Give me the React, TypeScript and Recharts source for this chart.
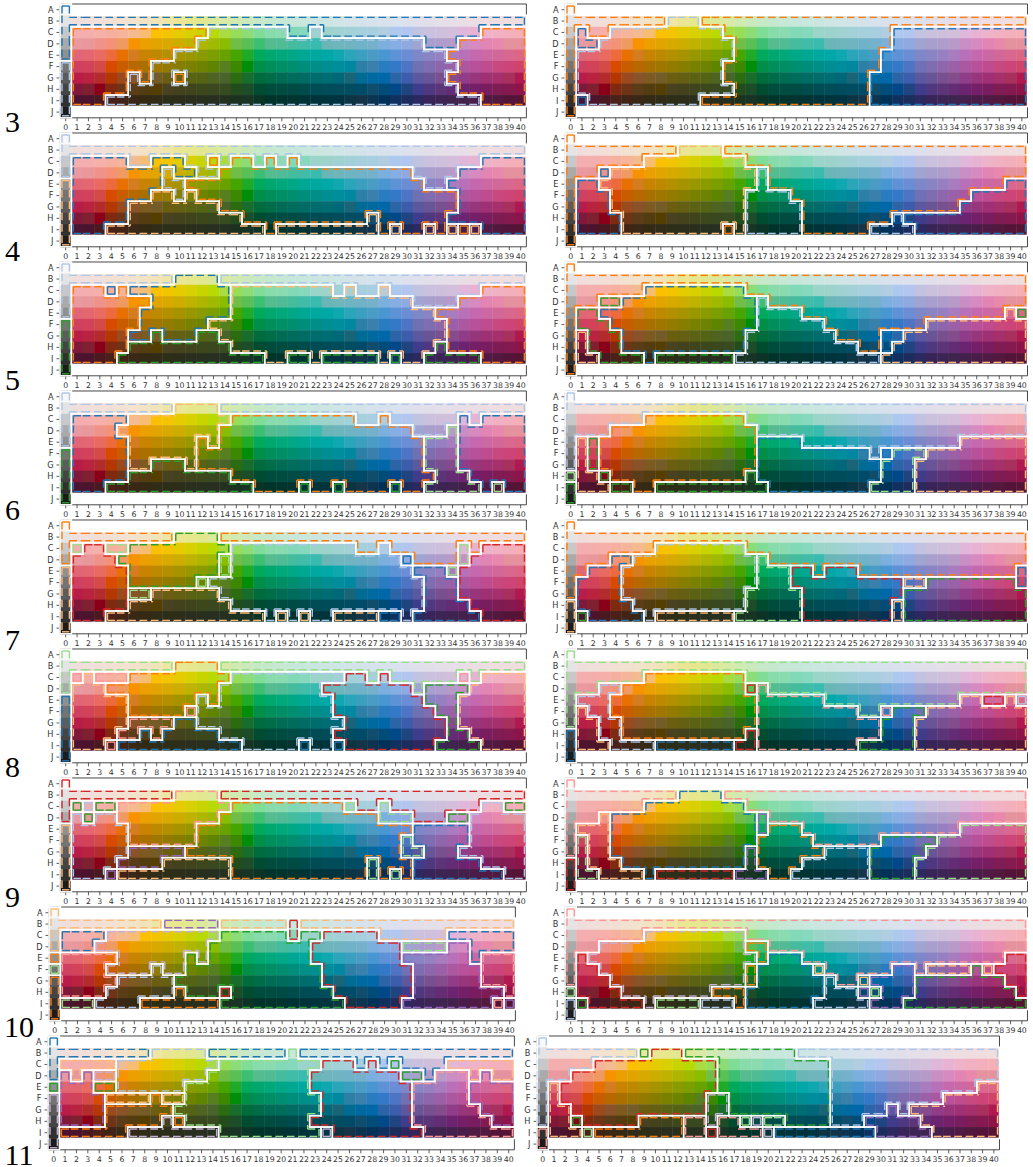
import { ScatterChart, Scatter, XAxis, YAxis, ReferenceArea } from "recharts";

const columnTicks = Array.from({ length: 41 }, (_, i) => i);
const rowTicks = [0, 1, 2, 3, 4, 5, 6, 7, 8, 9];
const rowNames = ["A", "B", "C", "D", "E", "F", "G", "H", "I", "J"];

const greyChips = ["#f8f8f8", "#e4e4e4", "#c8c8c8", "#aaaaaa", "#909090", "#747474", "#5c5c5c", "#444444", "#303030", "#1c1c1c"];
const chipsB = ["#f0dedd", "#f1dfdb", "#f2dfd8", "#f3e0d5", "#f3e1d1", "#f3e2cc", "#f2e3c4", "#f1e4b8", "#efe5a5", "#ebe693", "#e7e78e", "#e2e890", "#dde99a", "#d8eaa6", "#d1eab2", "#cce9bd", "#c8e9c8", "#c6e8cf", "#c6e8d4", "#c6e7d9", "#c8e7dd", "#cbe6e0", "#cee6e2", "#d0e5e5", "#d2e4e8", "#d4e3ea", "#d6e3ec", "#d8e2ed", "#dae2ee", "#dde1ee", "#dfe0ec", "#e2dfea", "#e4dfe9", "#e6dee8", "#e9dde6", "#ecdde3", "#eedde1", "#efdde0", "#f0dddf", "#f0dede"];
const chipsC = ["#f5aeb0", "#f5aeae", "#f6afa9", "#f6b09f", "#f6b59b", "#f3bb8f", "#f7bd72", "#fbc000", "#f3c400", "#e5cc00", "#d8d000", "#c8d400", "#b9da00", "#a8dc40", "#96dd58", "#8cdd78", "#7fdd98", "#88dcab", "#8adbb0", "#82d9b8", "#86d9bc", "#9bd4c8", "#9ed3cc", "#a0d2d2", "#a2d2d8", "#a5d0dc", "#a8cfdf", "#b0cde2", "#aec9ee", "#b3c6f0", "#c2c3e0", "#cac1de", "#cec0dc", "#d3bfdc", "#e0b6da", "#e8b3d3", "#eeb2c9", "#f1b1c2", "#f3b0bc", "#f5afb5"];
const chipsD = ["#e89aa0", "#e8989a", "#ef928a", "#f39276", "#ef9a60", "#f79300", "#eb9f00", "#e2a400", "#d8aa00", "#cdae00", "#bfb200", "#afb600", "#9fba00", "#89bd00", "#70bd47", "#5abf55", "#3cbf72", "#55bc8f", "#50bb95", "#46bc9e", "#40bca8", "#3abbb0", "#6ab6b6", "#6eb5bc", "#6fb4c0", "#70b3c8", "#76b1cc", "#7bafde", "#86aee2", "#90a9e0", "#a0a4d0", "#a99fcf", "#ae9dcc", "#b89ac8", "#c98fc4", "#d68ac0", "#e285b4", "#e888ac", "#e5929f", "#e5929e"];
const chipsE = ["#e06676", "#e46670", "#e96a60", "#ec6a3c", "#e87000", "#d47c20", "#c88400", "#bd8900", "#b29000", "#a69300", "#999700", "#8a9b00", "#7b9e00", "#68a200", "#47a500", "#1faa28", "#00a95c", "#00a870", "#00a87a", "#00a888", "#00a894", "#00a8a0", "#00a8a8", "#10a8b0", "#2aa5ba", "#3ba0c0", "#4a9cc4", "#4896d2", "#5d92d6", "#6a8dd6", "#7e88c8", "#8a84c4", "#9680c2", "#a87cbe", "#b870b8", "#c668ae", "#cc68a4", "#d2689a", "#d86890", "#dc6684"];
const chipsF = ["#d04060", "#d24258", "#d44a48", "#d84a00", "#c85c00", "#b86800", "#a97000", "#9e7600", "#937a00", "#877d00", "#7a8000", "#6e8300", "#5f8500", "#568020", "#3c8800", "#008e0a", "#008e48", "#008e5a", "#008e64", "#008e70", "#008e7c", "#008e88", "#008e92", "#008e9c", "#0088a0", "#2c80a8", "#3a80ac", "#2a7cc0", "#3478c8", "#4e74c4", "#7070b4", "#806cb0", "#8e66ac", "#9c60a8", "#ac58a0", "#b8509a", "#c04c90", "#c84880", "#cc4478", "#d0446c"];
const chipsG = ["#b81c48", "#ba2340", "#b42b2e", "#b43600", "#9a4a1c", "#8a5228", "#7d5a20", "#745c28", "#6c5e10", "#655f14", "#5c6214", "#546414", "#4e6420", "#48642a", "#2c6c10", "#186c2c", "#006c3c", "#006c48", "#006c54", "#006c5c", "#006c64", "#006c6c", "#006c74", "#006878", "#1a6478", "#006c94", "#006aa0", "#0068a8", "#2c64a8", "#3c5cac", "#5c58a0", "#6a5498", "#785090", "#844c8c", "#903c88", "#98367c", "#a03074", "#a6306c", "#a8305c", "#b01850"];
const chipsH = ["#80183a", "#7e2030", "#8a0018", "#7f2a10", "#6e3418", "#5a3c18", "#523c10", "#543e00", "#484220", "#44421c", "#40441c", "#3c481c", "#3a4820", "#384a20", "#224c1c", "#1c4c28", "#004c30", "#004c3c", "#004c40", "#004c44", "#004c4c", "#004c54", "#004c58", "#004c5c", "#004c60", "#004c68", "#104c6c", "#004c78", "#004888", "#204480", "#3f3c8c", "#503880", "#5c3478", "#642c74", "#6c2470", "#741f68", "#7a1c60", "#801c54", "#841a50", "#8c1448"];
const chipsI = ["#4c1430", "#4c142c", "#4a1820", "#4a2018", "#422416", "#3a2816", "#342a14", "#302c18", "#2c2e18", "#2c2e1a", "#2a2e1c", "#282f1e", "#262f20", "#243020", "#1c3220", "#183424", "#0c3426", "#00342a", "#00342c", "#043430", "#003434", "#00343a", "#00343c", "#003440", "#0c3442", "#143448", "#0c3450", "#003258", "#103060", "#1c2c5c", "#2c2860", "#382458", "#3c2454", "#402450", "#44204c", "#4a1c4a", "#501a44", "#52183e", "#54143a", "#561434"];
const chipRows = [chipsB, chipsC, chipsD, chipsE, chipsF, chipsG, chipsH, chipsI];

const clusterColors: Record<string, string> = {
  b: "#1f77b4", B: "#aec7e8", o: "#ff7f0e", O: "#ffbb78", g: "#2ca02c",
  G: "#98df8a", r: "#d62728", R: "#ff9896", p: "#9467bd", P: "#c5b0d5",
};

// clusters: grey column A-J, then rows B-I as "<cluster><last column>" runs
const grey3L = "bbbbbBBBBB";
const runs3L = ["b40", "o12 B19 b21 B22 b36 o40", "o11 B31 b34 o40", "o9 B33 o40", "o7 B34 o40", "o5 B6 o7 B9 o10 B33 o40", "o5 B34 o40", "o3 B36 o40"];
const grey3R = "oooooooooo";
const runs3R = ["o8 B11 o40", "b1 o3 B13 o28 b40", "b2 B14 o28 b40", "B14 o27 b40", "B13 o27 b40", "B13 o26 b40", "B14 o26 b40", "b1 B11 o26 b40"];
const grey4L = "BBBBOOOOOO";
const runs4L = ["B40", "b5 B7 b10 B12 o13 B14 o16 B17 o18 B19 o20 B36 b40", "b8 B9 b11 B13 o30 B34 b40", "b8 B10 o31 B33 b40", "b7 O9 B10 O11 o34 b40", "b5 O13 o34 b40", "b5 O15 o26 O27 o33 b40", "b3 O17 o18 O27 o28 O29 o31 O32 o33 O34 o35 O36 b40"];
const grey4R = "oooooooooo";
const runs4R = ["o9 O13 o40", "o6 O15 o40", "o2 b3 O16 B17 o40", "b2 O16 B17 o38 b40", "b3 O15 B19 o35 b40", "b3 O15 B20 o34 b40", "b4 O15 B20 o28 B29 b40", "b4 O13 o14 O15 B20 o26 B30 b40"];
const grey5L = "BBBBBggggg";
const runs5L = ["B9 b13 B40", "o3 b4 o5 b14 O23 B24 O25 B27 O28 B36 o40", "o7 b14 O30 B34 o40", "o6 b14 O32 o40", "o6 b12 O33 o40", "o5 b7 g8 b11 g13 O33 o40", "o5 g14 O32 g33 o40", "o4 g17 O19 g21 O22 g27 O28 g29 O31 g36 o40"];
const grey5R = "oooooooooo";
const runs5R = ["o40", "o6 b15 o40", "o2 g4 b16 B17 o40", "g2 b16 B20 o38 O39 g40", "g3 b16 B22 o31 O40", "O1 g4 b15 B23 o27 b29 O40", "O1 g4 b15 B25 o27 b28 O40", "O2 g6 b7 g14 B27 O40"];
const grey6L = "BBBBBggggg";
const runs6L = ["B9 O13 B40", "b5 O14 o25 B27 o28 B34 b35 B36 b40", "b4 O13 o30 B33 G34 b40", "b5 O11 o12 O13 o31 G34 b40", "b5 O11 o31 G34 b40", "b5 O7 g10 O11 o31 G34 b40", "b5 g14 o32 G35 b40", "b3 g16 o20 g21 o23 g24 o28 g29 o31 G36 b37 G38 b40"];
const grey6R = "BBBBBBBGgg";
const runs6R = ["B40", "B6 o15 B40", "B3 o16 B40", "O1 g2 o16 b20 B34 O40", "O1 g2 o16 b26 B27 b28 G31 O40", "O1 g2 o16 b27 G30 O40", "O2 g3 o15 g16 b27 G30 O40", "O3 g5 o7 g17 b26 G30 O40"];
const grey7L = "ooooOOOOOO";
const runs7L = ["o9 g13 o40", "G1 r3 G5 g14 B25 o27 B28 o34 G35 o36 r40", "r4 g13 G14 B29 b30 o34 G35 r40", "r5 g13 G14 B30 b33 G34 r40", "r5 g11 G12 B31 b34 r40", "r5 G7 O13 B31 b34 r40", "r5 O14 B31 b35 r40", "r3 O17 B18 O19 B20 O21 B23 O27 b29 B30 b36 r40"];
const grey7R = "oooooooOOO";
const runs7R = ["o40", "o7 B15 o40", "o3 b5 B16 G17 o40", "o1 b4 B16 G19 r21 o22 r25 o39 b40", "b4 B16 G19 r29 O31 g39 b40", "b4 B15 G20 r29 g40", "b5 B15 G20 r28 O29 g40", "g1 b6 B7 O14 G20 r28 O29 g40"];
const grey8L = "GGGGbbbbbb";
const runs8L = ["G9 o13 G40", "R1 O2 R5 o14 B24 r26 G27 r28 G34 R35 G36 O40", "O3 o13 B22 r30 G31 g35 O40", "O5 o11 B12 o13 B23 r31 g34 O40", "O5 o10 R11 B23 r32 g34 O40", "O5 R9 b11 B24 r33 g34 O40", "O4 R6 b7 R8 b13 B23 r33 g35 O40", "O3 R4 b15 B20 b21 B23 b24 r32 g36 O40"];
const grey8R = "GGGGGGGbbb";
const runs8R = ["G40", "G6 o15 G40", "G2 B4 o15 r16 R17 G40", "B3 o16 R22 G34 O36 r38 O39 B40", "O1 B3 o16 R25 G27 R28 g31 O40", "O2 B4 o16 R27 g30 O40", "O2 B4 o15 r16 R27 g30 O40", "O3 B7 b14 r16 R25 g30 O40"];
const grey9L = "rrrrOOOOOO";
const runs9L = ["r9 R13 r40", "g1 B2 g4 R14 o24 G25 r27 G28 r36 B38 g40", "B1 g2 B4 R13 o27 G30 r33 g35 B40", "B5 R11 o30 b35 B40", "B5 R11 o29 G30 b35 B40", "B5 p10 o29 G31 b34 B40", "B4 p8 O14 o26 G27 o30 b36 B40", "B3 p4 O14 o26 G27 o28 G29 o30 b38 B40"];
const grey9R = "RRRRRRRrrr";
const runs9R = ["R9 b13 R40", "R6 b15 R40", "R2 O3 b16 p17 R40", "O3 b16 p17 o20 R34 G40", "G1 O3 b16 o21 R27 g32 G40", "G1 O3 b15 p16 o22 B26 g31 G40", "G1 O4 b15 p16 o20 B26 g30 G40", "G2 O6 b7 r14 p17 o19 B26 g30 G40"];
const grey10L = "OOOOoGoooo";
const runs10L = ["O9 p14 O20 r21 O40", "b4 P14 g20 r21 g23 r28 O34 b40", "b3 P13 g22 r30 G34 p36 b40", "R5 P11 g12 P13 g22 r30 p36 b37 R40", "R4 P8 B9 P11 g23 r31 p37 R40", "R5 B10 g23 r31 p37 R40", "R4 B10 o11 g14 r15 g24 r31 p39 R40", "G3 B7 o14 g25 r30 p38 R39 p40"];
const grey10R = "RRRRRRRGBB";
const runs10R = ["R40", "R6 P15 R40", "R2 P15 o17 R40", "r1 P16 o17 b20 R38 r40", "r2 P15 o16 b21 O22 R28 p30 R31 O35 g36 O37 r40", "r3 P15 o16 b22 B23 R25 O26 p30 g38 r40", "r4 P12 o15 b22 B25 p26 G27 p30 g39 r40", "g1 r6 P7 G11 B14 o15 b21 B26 p29 g40"];
const grey11L = "bbbbgPPPPP";
const runs11L = ["b8 B13 b20 G21 b40", "O5 B14 G23 r26 b27 r28 b29 g30 b34 O40", "p1 O2 p3 P5 B13 G22 r30 g32 b33 R36 O37 p38 O40", "p3 g5 B11 G22 r31 R36 p40", "p4 O8 o9 O11 G23 r31 R36 p40", "p4 o10 G23 r31 R37 p40", "p4 o9 P10 o11 G22 r31 R38 p40", "o6 P14 G23 P24 r32 R40"];
const grey11R = "BBBBBBBBRR";
const runs11R = ["B8 g9 r12 g22 B40", "B4 r15 g25 B40", "B2 r15 g25 B40", "O1 r15 g25 B38 O40", "O1 r14 P16 g25 B35 O40", "O2 r14 P16 g25 B30 p31 B32 O40", "O2 g3 r8 o12 R14 P15 R17 G18 P19 G21 g25 B28 p33 O40", "O3 G4 o12 R14 r15 R19 P20 b29 p34 O40"];

const panelGrids = [
  { name: "3L", grey: grey3L, runs: runs3L },
  { name: "3R", grey: grey3R, runs: runs3R },
  { name: "4L", grey: grey4L, runs: runs4L },
  { name: "4R", grey: grey4R, runs: runs4R },
  { name: "5L", grey: grey5L, runs: runs5L },
  { name: "5R", grey: grey5R, runs: runs5R },
  { name: "6L", grey: grey6L, runs: runs6L },
  { name: "6R", grey: grey6R, runs: runs6R },
  { name: "7L", grey: grey7L, runs: runs7L },
  { name: "7R", grey: grey7R, runs: runs7R },
  { name: "8L", grey: grey8L, runs: runs8L },
  { name: "8R", grey: grey8R, runs: runs8R },
  { name: "9L", grey: grey9L, runs: runs9L },
  { name: "9R", grey: grey9R, runs: runs9R },
  { name: "10L", grey: grey10L, runs: runs10L },
  { name: "10R", grey: grey10R, runs: runs10R },
  { name: "11L", grey: grey11L, runs: runs11L },
  { name: "11R", grey: grey11R, runs: runs11R },
];

const sizeLabels = ["3", "4", "5", "6", "7", "8", "9", "10", "11"];
const sizeLabelY = [122, 251, 380, 510, 640, 767, 897, 1027, 1155];

const CELL_H = 11.38;
const TOP_START = 3.6;
const TOP_STEP = 129;
const INSET = 2;
const AXIS_ROOM = 20;

function frameLeft(rowIdx: number, side: number) {
  if (side === 1) return rowIdx === 8 ? 537.4 : 564.7;
  if (rowIdx === 7) return 49.2;
  if (rowIdx === 8) return 47.8;
  return 60.1;
}

function expandRuns(spec: string) {
  let out = "";
  spec.split(" ").forEach((run) => {
    const end = Number(run.slice(1));
    while (out.length < end) out += run[0];
  });
  return out;
}

function buildGrid(grey: string, runs: string[]) {
  const grid: string[][] = [];
  for (let r = 0; r < 10; r++) {
    const cells = r >= 1 && r <= 8 ? expandRuns(runs[r - 1]).split("") : new Array(40).fill("");
    grid.push([grey[r], ...cells]);
  }
  return grid;
}

function buildCells(grid: string[][]) {
  const cells: { col: number; row: number; fill: string; label: string }[] = [];
  grid.forEach((line, row) =>
    line.forEach((label, col) => {
      if (!label) return;
      cells.push({ col, row, label, fill: col === 0 ? greyChips[row] : chipRows[row - 1][col - 1] });
    })
  );
  return cells;
}

function Panel({ grey, runs, left, top, wide }: { grey: string; runs: string[]; left: number; top: number; wide: number }) {
  const grid = buildGrid(grey, runs);
  const cells = buildCells(grid);
  const w = wide / 41;
  const h = CELL_H;
  const plotH = h * 10;

  const chipShape = (p: any) => (
    <rect x={p.cx - w / 2} y={p.cy - h / 2} width={w + 0.4} height={h + 0.4} fill={p.payload.fill} />
  );

  const whiteShape = (p: any) => {
    const { row, col, label } = p.payload;
    const same = (r: number, c: number) => grid[r]?.[c] === label;
    const x0 = p.cx - w / 2, x1 = p.cx + w / 2, y0 = p.cy - h / 2, y1 = p.cy + h / 2;
    const lines: number[][] = [];
    if (!same(row - 1, col)) lines.push([x0, y0, x1, y0]);
    if (!same(row + 1, col)) lines.push([x0, y1, x1, y1]);
    if (!same(row, col - 1)) lines.push([x0, y0, x0, y1]);
    if (!same(row, col + 1)) lines.push([x1, y0, x1, y1]);
    return (
      <g>
        {lines.map((l, i) => (
          <line key={i} x1={l[0]} y1={l[1]} x2={l[2]} y2={l[3]} stroke="#ffffff" strokeWidth={1.5} strokeLinecap="square" />
        ))}
      </g>
    );
  };

  const insetShape = (p: any) => {
    const { row, col, label } = p.payload;
    const same = (r: number, c: number) => grid[r]?.[c] === label;
    const x0 = p.cx - w / 2, x1 = p.cx + w / 2, y0 = p.cy - h / 2, y1 = p.cy + h / 2;
    const lines: number[][] = [];
    const hEnd = (dr: number, dc: number, edge: number, dir: number) =>
      same(row, col + dc) ? (same(row + dr, col + dc) ? edge + dir * INSET : edge) : edge - dir * INSET;
    const vEnd = (dr: number, dc: number, edge: number, dir: number) =>
      same(row + dr, col) ? (same(row + dr, col + dc) ? edge + dir * INSET : edge) : edge - dir * INSET;
    if (!same(row - 1, col)) lines.push([hEnd(-1, -1, x0, -1), y0 + INSET, hEnd(-1, 1, x1, 1), y0 + INSET]);
    if (!same(row + 1, col)) lines.push([hEnd(1, -1, x0, -1), y1 - INSET, hEnd(1, 1, x1, 1), y1 - INSET]);
    if (!same(row, col - 1)) lines.push([x0 + INSET, vEnd(-1, -1, y0, -1), x0 + INSET, vEnd(1, -1, y1, 1)]);
    if (!same(row, col + 1)) lines.push([x1 - INSET, vEnd(-1, 1, y0, -1), x1 - INSET, vEnd(1, 1, y1, 1)]);
    return (
      <g>
        {lines.map((l, i) => (
          <line key={i} x1={l[0]} y1={l[1]} x2={l[2]} y2={l[3]} stroke={clusterColors[label]} strokeWidth={1.4} strokeDasharray="7.6 3.7" />
        ))}
      </g>
    );
  };

  return (
    <div style={{ position: "absolute", left: left - 30, top: top - 5 }}>
      <ScatterChart width={wide + 35} height={plotH + 5 + AXIS_ROOM} margin={{ top: 5, right: 5, bottom: 0, left: 0 }}>
        <XAxis
          dataKey="col"
          type="number"
          domain={[-0.5, 40.5]}
          ticks={columnTicks}
          interval={0}
          height={AXIS_ROOM}
          axisLine={false}
          tickLine={{ stroke: "#333", strokeWidth: 0.8 }}
          tickSize={3.5}
          tickMargin={3}
          tick={{ fontSize: 7.8, fill: "#333", fontFamily: "DejaVu Sans" }}
        />
        <YAxis
          dataKey="row"
          type="number"
          reversed
          domain={[-0.5, 9.5]}
          ticks={rowTicks}
          interval={0}
          width={30}
          axisLine={false}
          tickLine={{ stroke: "#333", strokeWidth: 0.8 }}
          tickSize={3.5}
          tickMargin={3}
          tickFormatter={(v: number) => rowNames[v]}
          tick={{ fontSize: 8.2, fill: "#333", fontFamily: "DejaVu Sans" }}
        />
        <Scatter data={cells} dataKey="row" shape={chipShape} isAnimationActive={false} />
        <Scatter data={cells} dataKey="row" shape={whiteShape} isAnimationActive={false} />
        <Scatter data={cells} dataKey="row" shape={insetShape} isAnimationActive={false} />
        <ReferenceArea x1={-0.5} x2={40.5} y1={-0.5} y2={9.5} fill="none" stroke="#333" strokeWidth={0.9} ifOverflow="visible" />
      </ScatterChart>
    </div>
  );
}

export default function App() {
  return (
    <div style={{ position: "absolute", left: 0, top: 0, width: 1033, height: 1167, background: "#fff", overflow: "hidden" }}>
      {panelGrids.map((g, i) => {
        const rowIdx = Math.floor(i / 2);
        const side = i % 2;
        const wide = side === 1 ? 462.5 : 466.4;
        return <Panel key={g.name} grey={g.grey} runs={g.runs} left={frameLeft(rowIdx, side)} top={TOP_START + rowIdx * TOP_STEP} wide={wide} />;
      })}
      {sizeLabels.map((s, i) => (
        <div
          key={s}
          style={{
            position: "absolute",
            left: s.length > 1 ? 19 : 12.6,
            top: sizeLabelY[i],
            transform: "translate(-50%, -50%)",
            fontFamily: "Liberation Serif",
            fontSize: 30,
            lineHeight: 1,
            color: "#000",
          }}
        >
          {s}
        </div>
      ))}
    </div>
  );
}
